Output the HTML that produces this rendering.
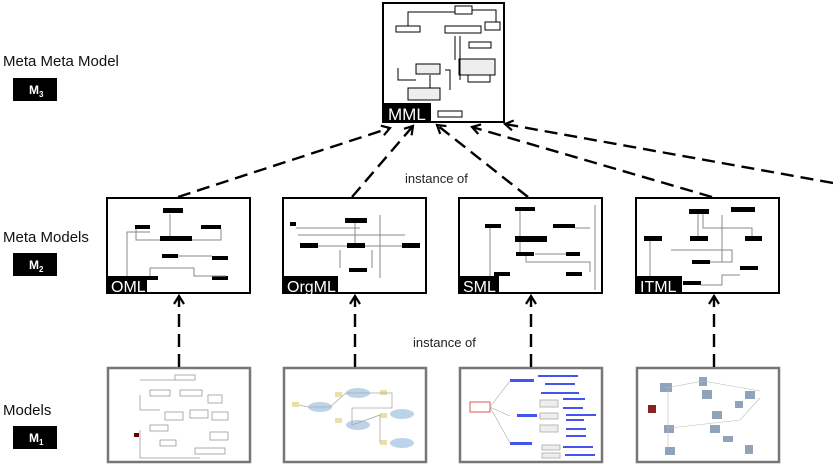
<!DOCTYPE html>
<html><head><meta charset="utf-8"><style>
html,body{margin:0;padding:0;background:#fff;width:833px;height:465px;overflow:hidden}
svg{display:block;font-family:"Liberation Sans",sans-serif}
</style></head><body>
<svg width="833" height="465" viewBox="0 0 833 465" xmlns="http://www.w3.org/2000/svg">
<defs>
<marker id="ah" markerWidth="12" markerHeight="12" refX="9" refY="6" orient="auto" markerUnits="userSpaceOnUse">
<polyline points="1,1 9,6 1,11" fill="none" stroke="#000" stroke-width="2.2"/>
</marker>
</defs>

<!-- Left labels -->
<text x="3" y="66" font-size="15" fill="#111">Meta Meta Model</text>
<rect x="13" y="78" width="44" height="23" fill="#000"/>
<text x="29" y="94" font-size="12" font-weight="bold" fill="#fff">M<tspan font-size="8" dy="3">3</tspan></text>
<text x="3" y="242" font-size="15" fill="#111">Meta Models</text>
<rect x="13" y="253" width="44" height="23" fill="#000"/>
<text x="29" y="269" font-size="12" font-weight="bold" fill="#fff">M<tspan font-size="8" dy="3">2</tspan></text>
<text x="3" y="415" font-size="15" fill="#111">Models</text>
<rect x="13" y="426" width="44" height="23" fill="#000"/>
<text x="29" y="442" font-size="12" font-weight="bold" fill="#fff">M<tspan font-size="8" dy="3">1</tspan></text>

<text x="405" y="183" font-size="13" fill="#222">instance of</text>
<text x="413" y="347" font-size="13" fill="#222">instance of</text>

<!-- MML box -->
<rect x="383" y="3" width="121" height="119" fill="#fff" stroke="#000" stroke-width="2"/>
<g stroke="#000" stroke-width="1" fill="#fff">
<rect x="455" y="6" width="17" height="8"/>
<rect x="396" y="26" width="24" height="6"/>
<rect x="445" y="26" width="36" height="7"/>
<rect x="485" y="22" width="15" height="8"/>
<rect x="469" y="42" width="22" height="6"/>
<rect x="416" y="64" width="24" height="10" fill="#eee"/>
<rect x="459" y="59" width="36" height="16" fill="#eee"/>
<rect x="408" y="88" width="32" height="12" fill="#eee"/>
<rect x="438" y="111" width="24" height="6"/>
<polyline points="408,26 408,12 455,12" fill="none"/>
<polyline points="455,36 455,60" fill="none"/>
<polyline points="460,36 460,80" fill="none"/>
<polyline points="472,10 496,10 496,22" fill="none"/>
<polyline points="398,68 398,80 416,80" fill="none"/>
<polyline points="430,75 430,88" fill="none"/>
<polyline points="445,70 450,70 450,90" fill="none"/>
<polyline points="468,75 468,82 490,82 490,75" fill="none"/>
</g>
<rect x="383" y="103" width="48" height="20" fill="#000"/>
<text x="388" y="120" font-size="17" fill="#fff">MML</text>

<!-- M2 boxes -->
<g stroke="#000" stroke-width="2" fill="#fff">
<rect x="107" y="198" width="143" height="95"/>
<rect x="283" y="198" width="143" height="95"/>
<rect x="459" y="198" width="143" height="95"/>
<rect x="636" y="198" width="143" height="95"/>
</g>
<g fill="#000">
<rect x="163" y="208" width="20" height="5"/><rect x="135" y="225" width="15" height="4"/><rect x="201" y="225" width="20" height="4"/><rect x="160" y="236" width="32" height="5"/><rect x="162" y="254" width="16" height="4"/><rect x="212" y="256" width="16" height="4"/><rect x="142" y="276" width="16" height="4"/><rect x="212" y="276" width="16" height="4"/>
<rect x="290" y="222" width="6" height="4"/><rect x="345" y="218" width="22" height="5"/><rect x="300" y="243" width="18" height="5"/><rect x="347" y="243" width="18" height="5"/><rect x="402" y="243" width="18" height="5"/><rect x="349" y="268" width="18" height="4"/>
<rect x="515" y="207" width="20" height="4"/><rect x="485" y="224" width="16" height="4"/><rect x="553" y="224" width="22" height="4"/><rect x="515" y="236" width="32" height="6"/><rect x="516" y="252" width="18" height="4"/><rect x="566" y="252" width="14" height="4"/><rect x="494" y="272" width="16" height="4"/><rect x="566" y="272" width="16" height="4"/>
<rect x="689" y="209" width="20" height="5"/><rect x="731" y="207" width="24" height="5"/><rect x="644" y="236" width="18" height="5"/><rect x="690" y="236" width="18" height="5"/><rect x="745" y="236" width="17" height="5"/><rect x="692" y="260" width="18" height="4"/><rect x="740" y="266" width="18" height="4"/><rect x="683" y="281" width="18" height="4"/>
</g>
<g stroke="#888" stroke-width="1" fill="none">
<polyline points="136,229 136,240 160,240"/><polyline points="221,229 221,240 192,240"/><polyline points="170,214 170,236"/><polyline points="127,290 127,232 150,232"/><polyline points="178,256 212,256"/><polyline points="150,276 150,268 194,268 194,276 226,276"/>
<polyline points="298,235 405,235"/><polyline points="296,228 360,228"/><polyline points="355,223 355,243"/><polyline points="318,246 347,246"/><polyline points="365,246 402,246"/><polyline points="340,250 340,268"/><polyline points="372,250 372,268"/><polyline points="380,215 380,278"/>
<polyline points="490,228 490,290"/><polyline points="520,211 520,236"/><polyline points="526,256 526,262 590,262 590,272"/><polyline points="535,254 566,254"/><polyline points="575,228 590,228"/><polyline points="595,205 595,290"/><polyline points="520,242 520,252"/>
<polyline points="650,241 650,290"/><polyline points="698,214 698,236"/><polyline points="703,214 703,228 752,228 752,236"/><polyline points="671,250 732,250 732,262 710,262"/><polyline points="700,285 722,285 722,275 740,275"/><polyline points="722,215 722,262"/>
</g>
<g fill="#000">
<rect x="107" y="276" width="40" height="18"/><rect x="283" y="276" width="55" height="18"/><rect x="459" y="276" width="40" height="18"/><rect x="636" y="276" width="46" height="18"/>
</g>
<g font-size="16" fill="#fff">
<text x="111" y="292">OML</text><text x="287" y="292">OrgML</text><text x="463" y="292">SML</text><text x="640" y="292">ITML</text>
</g>

<!-- M1 boxes -->
<g stroke="#777" stroke-width="2.5" fill="#fff">
<rect x="108" y="368" width="142" height="94"/>
<rect x="284" y="368" width="142" height="94"/>
<rect x="460" y="368" width="142" height="94"/>
<rect x="637" y="368" width="142" height="94"/>
</g>
<g stroke="#999" stroke-width="0.8" fill="#fff">
<rect x="150" y="390" width="20" height="6"/><rect x="180" y="390" width="22" height="6"/><rect x="208" y="395" width="14" height="8"/><rect x="165" y="412" width="18" height="8"/><rect x="190" y="410" width="18" height="8"/><rect x="212" y="412" width="16" height="8"/><rect x="150" y="425" width="18" height="6"/><rect x="160" y="440" width="16" height="6"/><rect x="210" y="432" width="18" height="8"/><rect x="195" y="448" width="30" height="6"/><rect x="175" y="375" width="20" height="5"/>
<polyline points="140,380 175,380" fill="none"/><polyline points="140,395 140,410 160,410" fill="none"/><polyline points="140,430 140,458 200,458" fill="none"/>
</g>
<rect x="134" y="433" width="5" height="4" fill="#600"/>
<g fill="#bcd3ea">
<ellipse cx="320" cy="407" rx="12" ry="5"/><ellipse cx="358" cy="393" rx="12" ry="5"/><ellipse cx="358" cy="425" rx="12" ry="5"/><ellipse cx="402" cy="414" rx="12" ry="5"/><ellipse cx="402" cy="443" rx="12" ry="5"/>
</g>
<g fill="#e8e0a8"><rect x="292" y="402" width="7" height="5"/><rect x="335" y="392" width="7" height="5"/><rect x="380" y="390" width="7" height="5"/><rect x="335" y="418" width="7" height="5"/><rect x="380" y="413" width="7" height="5"/><rect x="380" y="440" width="7" height="5"/></g>
<g stroke="#aaa" stroke-width="0.8" fill="none"><polyline points="299,405 308,407 330,407 346,393 370,393 392,393 392,408 352,408 352,425 380,415 380,443"/></g>
<g fill="#4455ee">
<rect x="510" y="379" width="24" height="3"/><rect x="538" y="375" width="40" height="2"/><rect x="545" y="383" width="30" height="2"/><rect x="541" y="392" width="38" height="2"/><rect x="563" y="398" width="22" height="2"/><rect x="563" y="407" width="20" height="2"/><rect x="517" y="414" width="20" height="3"/><rect x="566" y="414" width="30" height="2"/><rect x="566" y="419" width="18" height="2"/><rect x="566" y="428" width="20" height="2"/><rect x="566" y="435" width="20" height="2"/><rect x="510" y="442" width="22" height="3"/><rect x="563" y="446" width="30" height="2"/><rect x="565" y="454" width="30" height="2"/>
</g>
<rect x="470" y="402" width="20" height="10" fill="#fff" stroke="#c33" stroke-width="0.8"/>
<g stroke="#aaa" stroke-width="0.8" fill="#eee">
<rect x="540" y="400" width="18" height="7"/><rect x="540" y="413" width="18" height="6"/><rect x="540" y="425" width="18" height="7"/><rect x="542" y="445" width="18" height="5"/><rect x="542" y="453" width="18" height="5"/>
</g>
<g stroke="#aaa" stroke-width="0.6" fill="none"><polyline points="490,407 510,381"/><polyline points="490,407 510,416"/><polyline points="490,407 510,443"/></g>
<g fill="#8fa3bb">
<rect x="660" y="383" width="12" height="9"/><rect x="699" y="377" width="8" height="9"/><rect x="702" y="390" width="10" height="9"/><rect x="745" y="391" width="10" height="8"/><rect x="664" y="425" width="10" height="8"/><rect x="710" y="425" width="10" height="8"/><rect x="665" y="447" width="10" height="8"/><rect x="723" y="436" width="10" height="6"/><rect x="735" y="401" width="8" height="7"/><rect x="712" y="411" width="10" height="8"/><rect x="745" y="445" width="8" height="9"/>
</g>
<rect x="648" y="405" width="8" height="8" fill="#8a2222"/>
<g stroke="#bbb" stroke-width="0.6" fill="none"><polyline points="666,388 703,381 760,391"/><polyline points="668,390 668,447"/><polyline points="670,428 740,420 760,398"/></g>

<!-- Dashed connectors M2 -> M3 -->
<g stroke="#000" stroke-width="2.4" stroke-dasharray="13,7" fill="none" marker-end="url(#ah)">
<line x1="178" y1="197" x2="390" y2="128"/>
<line x1="352" y1="197" x2="413" y2="126"/>
<line x1="528" y1="197" x2="437" y2="125"/>
<line x1="712" y1="197" x2="472" y2="127"/>
<line x1="833" y1="183" x2="505" y2="124"/>
</g>
<g stroke="#000" stroke-width="2.4" stroke-dasharray="13,7" fill="none" marker-end="url(#ah)">
<line x1="179" y1="367" x2="179" y2="296"/>
<line x1="355" y1="367" x2="355" y2="296"/>
<line x1="531" y1="367" x2="531" y2="296"/>
<line x1="714" y1="367" x2="714" y2="296"/>
</g>
</svg>
</body></html>
